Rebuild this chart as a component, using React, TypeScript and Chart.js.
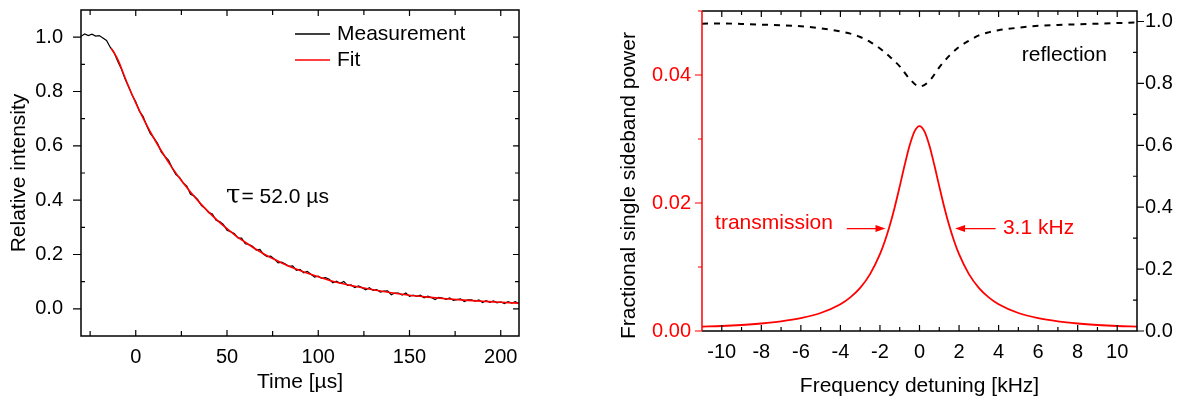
import React, { useEffect, useRef } from "react";
import { Chart, registerables } from "chart.js";

Chart.register(...registerables);

const SANS = "'Liberation Sans', Arial, Helvetica, sans-serif";
const SERIF = "'DejaVu Serif', 'Liberation Serif', serif";

// ---------------- Left panel: ring-down measurement ----------------
const timeUs = [
  -30, -28, -26, -24, -22, -20, -18, -16, -14, -12, -10, -8, -6, -4, -2,
  0, 2, 4, 6, 8, 10, 12, 14, 16, 18, 20, 22, 24, 26, 28, 30, 32, 34, 36, 38,
  40, 42, 44, 46, 48, 50, 52, 54, 56, 58, 60, 62, 64, 66, 68, 70, 72, 74, 76,
  78, 80, 82, 84, 86, 88, 90, 92, 94, 96, 98, 100, 102, 104, 106, 108, 110,
  112, 114, 116, 118, 120, 122, 124, 126, 128, 130, 132, 134, 136, 138, 140,
  142, 144, 146, 148, 150, 152, 154, 156, 158, 160, 162, 164, 166, 168, 170,
  172, 174, 176, 178, 180, 182, 184, 186, 188, 190, 192, 194, 196, 198, 200,
  202, 204, 206, 208, 210,
];
const measured = [
  1.003, 1.012, 1.006, 1.011, 1.004, 1.006, 0.997, 0.988, 0.963, 0.945, 0.913,
  0.885, 0.849, 0.818, 0.787,
  0.762, 0.727, 0.709, 0.674, 0.645, 0.628, 0.608, 0.577, 0.561, 0.547, 0.518,
  0.494, 0.484, 0.463, 0.452, 0.422, 0.415, 0.402, 0.38, 0.37, 0.354, 0.349,
  0.326, 0.321, 0.311, 0.289, 0.284, 0.277, 0.261, 0.26, 0.24, 0.237, 0.23,
  0.216, 0.219, 0.201, 0.192, 0.194, 0.183, 0.169, 0.172, 0.165, 0.156, 0.158,
  0.142, 0.145, 0.133, 0.138, 0.127, 0.117, 0.12, 0.112, 0.115, 0.109, 0.096,
  0.102, 0.094, 0.101, 0.086, 0.088, 0.078, 0.084, 0.078, 0.07, 0.078, 0.068,
  0.071, 0.062, 0.065, 0.066, 0.052, 0.058, 0.058, 0.051, 0.058, 0.046, 0.05,
  0.046, 0.05, 0.041, 0.047, 0.042, 0.034, 0.042, 0.04, 0.035, 0.04, 0.031,
  0.034, 0.037, 0.027, 0.033, 0.033, 0.028, 0.033, 0.023, 0.03, 0.024, 0.029,
  0.022, 0.026, 0.019, 0.026, 0.021, 0.026, 0.019,
];
const fitTimeUs = [
  -13.5, -10, -5, 0, 5, 10, 15, 20, 25, 30, 35, 40, 45, 50, 55, 60, 65, 70, 75,
  80, 85, 90, 95, 100, 110, 120, 130, 140, 150, 160, 170, 180, 190, 200, 210,
];
const fitValues = [
  0.96, 0.92, 0.836, 0.758, 0.689, 0.627, 0.571, 0.519, 0.472, 0.43, 0.391,
  0.356, 0.324, 0.295, 0.268, 0.245, 0.223, 0.203, 0.185, 0.169, 0.154, 0.141,
  0.129, 0.118, 0.098, 0.083, 0.07, 0.059, 0.05, 0.043, 0.037, 0.032, 0.028,
  0.024, 0.021,
];
const timeTicks = [0, 50, 100, 150, 200];
const timeMinor = [-25, 25, 75, 125, 175];
const intensityTicks = [0, 0.2, 0.4, 0.6, 0.8, 1.0];
const intensityMinor = [0.1, 0.3, 0.5, 0.7, 0.9];
const tauText = "= 52.0 µs";
const tauAt = { x: 49.5, y: 0.41 };

// ---------------- Right panel: transmission / reflection ----------------
const transFreq = [
  -11, -10, -9, -8, -7, -6, -5, -4, -3.5, -3, -2.5, -2, -1.75, -1.5, -1.25, -1,
  -0.75, -0.5, -0.25, 0, 0.25, 0.5, 0.75, 1, 1.25, 1.5, 1.75, 2, 2.5, 3, 3.5, 4,
  5, 6, 7, 8, 9, 10, 11,
];
const transmission = [
  0.00068, 0.00078, 0.00094, 0.00117, 0.0015, 0.002, 0.00281, 0.00418,
  0.00525, 0.00674, 0.00889, 0.01201, 0.01407, 0.01652, 0.01939, 0.0226,
  0.02593, 0.02898, 0.03119, 0.032, 0.03119, 0.02898, 0.02593, 0.0226,
  0.01939, 0.01652, 0.01407, 0.01201, 0.00889, 0.00674, 0.00525, 0.00418,
  0.00281, 0.002, 0.0015, 0.00117, 0.00094, 0.00078, 0.00068,
];
const reflFreq = [
  -11, -10, -9, -8, -7, -6, -5, -4, -3.5, -3, -2.5, -2, -1.5, -1, -0.5, 0, 0.5,
  1, 1.5, 2, 2.5, 3, 3.5, 4, 5, 6, 7, 8, 9, 10, 11,
];
const reflection = [
  0.993, 0.994, 0.992, 0.99, 0.988, 0.985, 0.978, 0.968, 0.961, 0.95, 0.934,
  0.913, 0.886, 0.855, 0.815, 0.79, 0.808, 0.852, 0.889, 0.918, 0.938, 0.955,
  0.965, 0.972, 0.98, 0.986, 0.989, 0.991, 0.993, 0.995, 0.997,
];
const freqTicks = [-10, -8, -6, -4, -2, 0, 2, 4, 6, 8, 10];
const freqMinor = [-9, -7, -5, -3, -1, 1, 3, 5, 7, 9];
const powerTicks = [0, 0.02, 0.04];
const powerMinor = [0.01, 0.03, 0.05];
const reflTicks = [0, 0.2, 0.4, 0.6, 0.8, 1.0];
const reflMinor = [0.1, 0.3, 0.5, 0.7, 0.9];
const widthText = "3.1 kHz";
const reflLabelAt = { x: 5.17, y: 0.892 };
const transLabelAt = { x: -10.34, y: 0.0169 };
const leftArrow = { from: -3.68, to: -1.72, y: 0.016 };
const rightArrow = { from: 3.85, to: 1.8, y: 0.016 };
const widthLabelAt = { x: 4.22, y: 0.016 };

const RED = "#ff0000";
const tickFont = { family: SANS, size: 20 };
const titleFont = { family: SANS, size: 21 };

const setTicks = (values: number[]) => (scale: any) => {
  scale.ticks = values.map((v) => ({ value: v }));
};
const fixSize = (w: number | null, h: number | null) => (scale: any) => {
  if (w !== null) scale.width = w;
  if (h !== null) scale.height = h;
  scale.paddingTop = 0;
  scale.paddingBottom = 0;
  scale.paddingLeft = 0;
  scale.paddingRight = 0;
};

function arrow(ctx: CanvasRenderingContext2D, x0: number, x1: number, y: number) {
  const dir = Math.sign(x1 - x0);
  ctx.beginPath();
  ctx.moveTo(x0, y);
  ctx.lineTo(x1 - dir * 6, y);
  ctx.stroke();
  ctx.beginPath();
  ctx.moveTo(x1, y);
  ctx.lineTo(x1 - dir * 10, y - 3.5);
  ctx.lineTo(x1 - dir * 10, y + 3.5);
  ctx.closePath();
  ctx.fill();
}

const leftDecor = {
  id: "leftDecor",
  afterDatasetsDraw(chart: any) {
    const { ctx, chartArea: a } = chart;
    const x = chart.scales.x;
    const y = chart.scales.y;
    ctx.save();
    ctx.strokeStyle = "#000";
    ctx.lineWidth = 1.5;
    ctx.strokeRect(a.left, a.top, a.right - a.left, a.bottom - a.top);
    ctx.lineWidth = 1.2;
    ctx.beginPath();
    const xt = (vals: number[], len: number) =>
      vals.forEach((v) => {
        const p = x.getPixelForValue(v);
        ctx.moveTo(p, a.bottom);
        ctx.lineTo(p, a.bottom - len);
        ctx.moveTo(p, a.top);
        ctx.lineTo(p, a.top + len);
      });
    xt(timeTicks, 6);
    xt(timeMinor, 5);
    intensityTicks.forEach((v) => {
      const p = y.getPixelForValue(v);
      ctx.moveTo(a.left - 8, p);
      ctx.lineTo(a.left, p);
      ctx.moveTo(a.right, p);
      ctx.lineTo(a.right - 6, p);
    });
    intensityMinor.forEach((v) => {
      const p = y.getPixelForValue(v);
      ctx.moveTo(a.left, p);
      ctx.lineTo(a.left + 4, p);
      ctx.moveTo(a.right, p);
      ctx.lineTo(a.right - 4, p);
    });
    ctx.stroke();

    // legend
    ctx.font = `21px ${SANS}`;
    ctx.textBaseline = "middle";
    ctx.textAlign = "left";
    chart.data.datasets.forEach((ds: any, i: number) => {
      const ly = a.top + 24 + i * 26;
      ctx.strokeStyle = ds.borderColor;
      ctx.lineWidth = 1.5;
      ctx.beginPath();
      ctx.moveTo(a.left + 214, ly);
      ctx.lineTo(a.left + 249, ly);
      ctx.stroke();
      ctx.fillStyle = "#000";
      ctx.fillText(ds.label, a.left + 256, ly);
    });

    // tau annotation
    const tx = x.getPixelForValue(tauAt.x);
    const ty = y.getPixelForValue(tauAt.y);
    ctx.fillStyle = "#000";
    ctx.font = `26px ${SERIF}`;
    ctx.fillText("τ", tx, ty - 1);
    const tw = ctx.measureText("τ").width;
    ctx.font = `21px ${SANS}`;
    ctx.fillText(tauText, tx + tw + 1, ty);
    ctx.restore();
  },
};

const rightDecor = {
  id: "rightDecor",
  afterDatasetsDraw(chart: any) {
    const { ctx, chartArea: a } = chart;
    const x = chart.scales.x;
    const y = chart.scales.y;
    const y1 = chart.scales.y1;
    ctx.save();
    ctx.lineWidth = 1.5;
    ctx.strokeStyle = "#000";
    ctx.beginPath();
    ctx.moveTo(a.left, a.top);
    ctx.lineTo(a.right, a.top);
    ctx.lineTo(a.right, a.bottom);
    ctx.lineTo(a.left, a.bottom);
    ctx.stroke();
    ctx.lineWidth = 1.2;
    ctx.beginPath();
    const xt = (vals: number[], len: number) =>
      vals.forEach((v) => {
        const p = x.getPixelForValue(v);
        ctx.moveTo(p, a.bottom);
        ctx.lineTo(p, a.bottom - len);
        ctx.moveTo(p, a.top);
        ctx.lineTo(p, a.top + len);
      });
    xt(freqTicks, 6);
    xt(freqMinor, 4);
    reflTicks.forEach((v) => {
      const p = y1.getPixelForValue(v);
      ctx.moveTo(a.right, p);
      ctx.lineTo(a.right + 7, p);
    });
    reflMinor.forEach((v) => {
      const p = y1.getPixelForValue(v);
      ctx.moveTo(a.right, p);
      ctx.lineTo(a.right - 4, p);
    });
    ctx.stroke();

    // red left axis
    ctx.strokeStyle = RED;
    ctx.lineWidth = 1.5;
    ctx.beginPath();
    ctx.moveTo(a.left, a.top);
    ctx.lineTo(a.left, a.bottom);
    ctx.stroke();
    ctx.lineWidth = 1.2;
    ctx.beginPath();
    powerTicks.forEach((v) => {
      const p = y.getPixelForValue(v);
      ctx.moveTo(a.left - 7, p);
      ctx.lineTo(a.left, p);
    });
    powerMinor.forEach((v) => {
      const p = y.getPixelForValue(v);
      ctx.moveTo(a.left - 4, p);
      ctx.lineTo(a.left, p);
    });
    ctx.stroke();

    // annotations
    ctx.font = `21px ${SANS}`;
    ctx.textBaseline = "middle";
    ctx.textAlign = "left";
    ctx.fillStyle = "#000";
    ctx.fillText(
      chart.data.datasets[1].label,
      x.getPixelForValue(reflLabelAt.x),
      y1.getPixelForValue(reflLabelAt.y)
    );
    ctx.fillStyle = RED;
    ctx.fillText(
      chart.data.datasets[0].label,
      x.getPixelForValue(transLabelAt.x),
      y.getPixelForValue(transLabelAt.y)
    );
    ctx.fillText(
      widthText,
      x.getPixelForValue(widthLabelAt.x),
      y.getPixelForValue(widthLabelAt.y)
    );
    ctx.strokeStyle = RED;
    ctx.lineWidth = 1.3;
    arrow(
      ctx,
      x.getPixelForValue(leftArrow.from),
      x.getPixelForValue(leftArrow.to),
      y.getPixelForValue(leftArrow.y)
    );
    arrow(
      ctx,
      x.getPixelForValue(rightArrow.from),
      x.getPixelForValue(rightArrow.to),
      y.getPixelForValue(rightArrow.y)
    );
    ctx.restore();
  },
};

export default function App() {
  const leftRef = useRef<HTMLCanvasElement>(null);
  const rightRef = useRef<HTMLCanvasElement>(null);

  useEffect(() => {
    document.body.style.margin = "0";
    const noGrid = { display: false, drawTicks: false };
    const noBorder = { display: false };

    const c1 = new Chart(leftRef.current as HTMLCanvasElement, {
      type: "line",
      data: {
        datasets: [
          {
            label: "Measurement",
            data: timeUs.map((t, i) => ({ x: t, y: measured[i] })),
            borderColor: "#000000",
            borderWidth: 1.2,
            pointRadius: 0,
            order: 1,
          },
          {
            label: "Fit",
            data: fitTimeUs.map((t, i) => ({ x: t, y: fitValues[i] })),
            borderColor: RED,
            borderWidth: 1.6,
            pointRadius: 0,
            cubicInterpolationMode: "monotone",
            order: 0,
          },
        ],
      },
      options: {
        animation: false,
        responsive: false,
        events: [],
        layout: { padding: { left: 0, top: 10, right: 41, bottom: 0 } },
        plugins: { legend: { display: false }, tooltip: { enabled: false } },
        scales: {
          x: {
            type: "linear",
            min: -30,
            max: 210,
            afterBuildTicks: setTicks(timeTicks),
            afterFit: fixSize(null, 64),
            grid: noGrid,
            border: noBorder,
            ticks: {
              font: tickFont,
              color: "#000",
              padding: 9,
              autoSkip: false,
              maxRotation: 0,
              callback: (v: any) => String(v),
            },
            title: {
              display: true,
              text: "Time [µs]",
              font: titleFont,
              color: "#000",
              padding: { top: 0, bottom: 5 },
            },
          },
          y: {
            type: "linear",
            min: -0.1,
            max: 1.1,
            afterBuildTicks: setTicks(intensityTicks),
            afterFit: fixSize(81, null),
            grid: noGrid,
            border: noBorder,
            ticks: {
              font: tickFont,
              color: "#000",
              padding: 18,
              callback: (v: any) => Number(v).toFixed(1),
            },
            title: {
              display: true,
              text: "Relative intensity",
              font: titleFont,
              color: "#000",
              padding: { top: 7, bottom: 0 },
            },
          },
        },
      } as any,
      plugins: [leftDecor],
    });

    const c2 = new Chart(rightRef.current as HTMLCanvasElement, {
      type: "line",
      data: {
        datasets: [
          {
            label: "transmission",
            data: transFreq.map((f, i) => ({ x: f, y: transmission[i] })),
            borderColor: RED,
            borderWidth: 1.8,
            pointRadius: 0,
            cubicInterpolationMode: "monotone",
            yAxisID: "y",
          },
          {
            label: "reflection",
            data: reflFreq.map((f, i) => ({ x: f, y: reflection[i] })),
            borderColor: "#000000",
            borderWidth: 2,
            borderDash: [6, 6],
            pointRadius: 0,
            cubicInterpolationMode: "monotone",
            yAxisID: "y1",
          },
        ],
      },
      options: {
        animation: false,
        responsive: false,
        events: [],
        layout: { padding: { left: 0, top: 11, right: 0, bottom: 0 } },
        plugins: { legend: { display: false }, tooltip: { enabled: false } },
        scales: {
          x: {
            type: "linear",
            min: -11,
            max: 11,
            afterBuildTicks: setTicks(freqTicks),
            afterFit: fixSize(null, 69),
            grid: noGrid,
            border: noBorder,
            ticks: {
              font: tickFont,
              color: "#000",
              padding: 9,
              autoSkip: false,
              maxRotation: 0,
              callback: (v: any) => String(v),
            },
            title: {
              display: true,
              text: "Frequency detuning [kHz]",
              font: titleFont,
              color: "#000",
              padding: { top: 0, bottom: 1 },
            },
          },
          y: {
            type: "linear",
            position: "left",
            min: 0,
            max: 0.05,
            afterBuildTicks: setTicks(powerTicks),
            afterFit: fixSize(112, null),
            grid: noGrid,
            border: noBorder,
            ticks: {
              font: tickFont,
              color: RED,
              padding: 11,
              callback: (v: any) => Number(v).toFixed(2),
            },
            title: {
              display: true,
              text: "Fractional single sideband power     ",
              font: titleFont,
              color: "#000",
              padding: { top: 27, bottom: 0 },
            },
          },
          y1: {
            type: "linear",
            position: "right",
            min: 0,
            max: 1.034,
            afterBuildTicks: setTicks(reflTicks),
            afterFit: fixSize(45, null),
            grid: noGrid,
            border: noBorder,
            ticks: {
              font: tickFont,
              color: "#000",
              padding: 8,
              callback: (v: any) => Number(v).toFixed(1),
            },
          },
        },
      } as any,
      plugins: [rightDecor],
    });

    return () => {
      c1.destroy();
      c2.destroy();
    };
  }, []);

  return (
    <div style={{ position: "relative", width: 1182, height: 400, background: "#fff" }}>
      <canvas
        ref={leftRef}
        width={560}
        height={400}
        style={{ position: "absolute", left: 0, top: 0, width: 560, height: 400 }}
      />
      <canvas
        ref={rightRef}
        width={592}
        height={400}
        style={{ position: "absolute", left: 590, top: 0, width: 592, height: 400 }}
      />
    </div>
  );
}
